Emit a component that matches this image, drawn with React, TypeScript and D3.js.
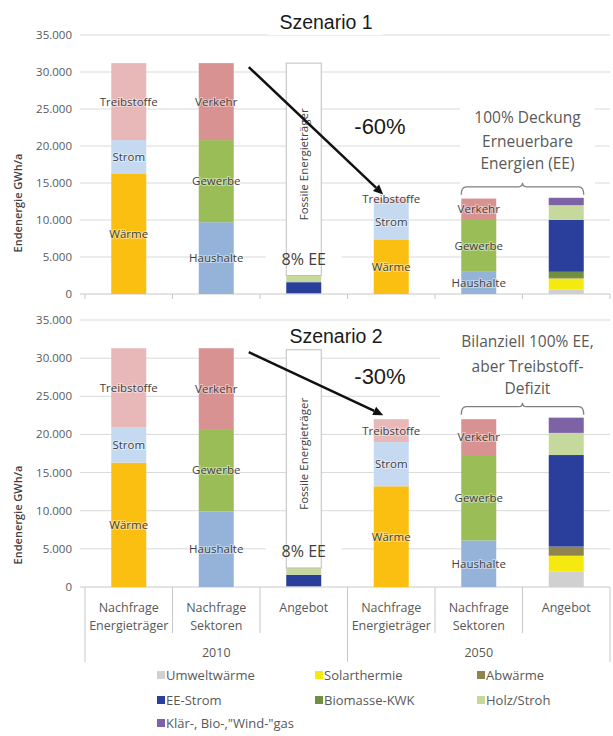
import React from "react";
import * as d3 from "d3";

const categories = ["NE2010", "NS2010", "A2010", "NE2050", "NS2050", "A2050"];
const categoryLabels = [
  ["Nachfrage", "Energieträger"],
  ["Nachfrage", "Sektoren"],
  ["Angebot"],
  ["Nachfrage", "Energieträger"],
  ["Nachfrage", "Sektoren"],
  ["Angebot"],
];
const years = ["2010", "2050"];

const seriesKeys = [
  "Wärme", "Strom", "Treibstoffe",
  "Haushalte", "Gewerbe", "Verkehr",
  "Umweltwärme", "Solarthermie", "Abwärme", "Biomasse-KWK", "EE-Strom", "Holz/Stroh", "Klärgas",
  "Fossile",
];
const labelledKeys = ["Wärme", "Strom", "Treibstoffe", "Haushalte", "Gewerbe", "Verkehr"];

// Szenario 1 (GWh/a per category)
const s1Waerme = [16300, 0, 0, 7300, 0, 0];
const s1Strom = [4500, 0, 0, 4900, 0, 0];
const s1Treibstoffe = [10400, 0, 0, 700, 0, 0];
const s1Haushalte = [0, 9700, 0, 0, 3000, 0];
const s1Gewerbe = [0, 11100, 0, 0, 7000, 0];
const s1Verkehr = [0, 10400, 0, 0, 2900, 0];
const s1Umwelt = [0, 0, 100, 0, 0, 600];
const s1Solar = [0, 0, 0, 0, 0, 1500];
const s1Abwaerme = [0, 0, 0, 0, 0, 200];
const s1Biomasse = [0, 0, 0, 0, 0, 700];
const s1EEStrom = [0, 0, 1500, 0, 0, 7000];
const s1Holz = [0, 0, 900, 0, 0, 2000];
const s1Klaer = [0, 0, 0, 0, 0, 1000];
const s1Fossil = [0, 0, 28700, 0, 0, 0];

// Szenario 2
const s2Waerme = [16300, 0, 0, 13200, 0, 0];
const s2Strom = [4600, 0, 0, 5800, 0, 0];
const s2Treibstoffe = [10400, 0, 0, 3000, 0, 0];
const s2Haushalte = [0, 9900, 0, 0, 6100, 0];
const s2Gewerbe = [0, 10800, 0, 0, 11200, 0];
const s2Verkehr = [0, 10600, 0, 0, 4700, 0];
const s2Umwelt = [0, 0, 100, 0, 0, 2000];
const s2Solar = [0, 0, 0, 0, 0, 2100];
const s2Abwaerme = [0, 0, 0, 0, 0, 1200];
const s2Biomasse = [0, 0, 0, 0, 0, 0];
const s2EEStrom = [0, 0, 1500, 0, 0, 12000];
const s2Holz = [0, 0, 900, 0, 0, 2900];
const s2Klaer = [0, 0, 0, 0, 0, 2000];
const s2Fossil = [0, 0, 28600, 0, 0, 0];

const yTicks = [0, 5000, 10000, 15000, 20000, 25000, 30000, 35000];

const legendItems = [
  "Umweltwärme", "Solarthermie", "Abwärme",
  "EE-Strom", "Biomasse-KWK", "Holz/Stroh",
  "Klärgas",
];
const legendLabels: Record<string, string> = {
  "Klärgas": 'Klär-, Bio-,"Wind-"gas',
};

const colors: Record<string, string> = {
  "Wärme": "#fbbf12",
  "Strom": "#c5d9f0",
  "Treibstoffe": "#e8b8b8",
  "Haushalte": "#95b3d9",
  "Gewerbe": "#9bbd58",
  "Verkehr": "#d99292",
  "Umweltwärme": "#d0d0d0",
  "Solarthermie": "#f5ea10",
  "Abwärme": "#8f8450",
  "Biomasse-KWK": "#6f9040",
  "EE-Strom": "#2a3f9c",
  "Holz/Stroh": "#c6d99c",
  "Klärgas": "#7e62a6",
  "Fossile": "#ffffff",
};

function buildRows(arrs: number[][]) {
  return categories.map((c, i) => {
    const row: any = { cat: c };
    seriesKeys.forEach((k, j) => (row[k] = arrs[j][i]));
    return row;
  });
}

const rows1 = buildRows([
  s1Waerme, s1Strom, s1Treibstoffe, s1Haushalte, s1Gewerbe, s1Verkehr,
  s1Umwelt, s1Solar, s1Abwaerme, s1Biomasse, s1EEStrom, s1Holz, s1Klaer, s1Fossil,
]);
const rows2 = buildRows([
  s2Waerme, s2Strom, s2Treibstoffe, s2Haushalte, s2Gewerbe, s2Verkehr,
  s2Umwelt, s2Solar, s2Abwaerme, s2Biomasse, s2EEStrom, s2Holz, s2Klaer, s2Fossil,
]);

const locale = d3.formatLocale({ decimal: ",", thousands: ".", grouping: [3], currency: ["", "€"] });
const fmt = locale.format(",");

const W = 613;
const H = 736;
const x = d3.scaleBand<string>().domain(categories).range([85, 610]).paddingInner(0.6).paddingOuter(0.3);
const calibri = "'Open Sans', 'Noto Sans', sans-serif";
const arial = "'Liberation Sans', Arial, sans-serif";
const gridColor = "#d9d9d9";
const textGray = "#595959";

type PanelProps = {
  rows: any[];
  y0: number;
  y1: number;
  title: string;
  titleY: number;
  titleX: number;
  pct: string;
  pctY: number;
  note: string[];
  noteY: number[];
  noteBox: [number, number, number, number];
  ylabelY: number;
  bottom: boolean;
  id: string;
};

function Panel(p: PanelProps) {
  const y = d3.scaleLinear().domain([0, 35000]).range([p.y0, p.y1]);
  const stacked = d3.stack<any>().keys(seriesKeys)(p.rows);
  const bw = x.bandwidth();
  const totals = p.rows.map((r) =>
    seriesKeys.filter((k) => k !== "Fossile").reduce((s, k) => s + r[k], 0)
  );
  const xc = (c: string) => (x(c) as number) + bw / 2;

  // arrow
  const ax0 = (x("NS2010") as number) + bw + 15;
  const ay0 = y(totals[1]) + 4;
  const ax1 = xc("NE2050") - 8;
  const ay1 = y(totals[3]) - 4;
  const ang = Math.atan2(ay1 - ay0, ax1 - ax0);
  const ah = 10;
  const aw = 4.5;
  const hx = ax1 - ah * Math.cos(ang);
  const hy = ay1 - ah * Math.sin(ang);
  const arrowHead = `M${ax1},${ay1}L${hx + aw * Math.sin(ang)},${hy - aw * Math.cos(ang)}L${hx - aw * Math.sin(ang)},${hy + aw * Math.cos(ang)}Z`;

  // brace
  const bx0 = x("NS2050") as number;
  const bx1 = (x("A2050") as number) + bw;
  const maxTop = Math.min(y(totals[4]), y(totals[5]));
  const bEnd = maxTop - 3;
  const bLine = bEnd - 8;
  const bMid = (bx0 + bx1) / 2;
  const r = 5;
  const brace = `M${bx0},${bEnd}Q${bx0},${bLine} ${bx0 + r},${bLine}L${bMid - 4},${bLine}Q${bMid},${bLine} ${bMid},${bLine - 4}Q${bMid},${bLine} ${bMid + 4},${bLine}L${bx1 - r},${bLine}Q${bx1},${bLine} ${bx1},${bEnd}`;

  const fossil = stacked.find((s) => s.key === "Fossile")!;
  const fIdx = categories.indexOf("A2010");
  const fSeg = fossil[fIdx];

  const titleW = p.title.length * 10.6;
  const eeY = y(totals[2]) - 11;

  return (
    <g>
      {/* gridlines */}
      {yTicks.map((t) => (
        <g key={t}>
          <line x1={80} x2={610} y1={y(t)} y2={y(t)} stroke={t === 0 ? "#c8c8c8" : gridColor} strokeWidth={1} />
          <text x={72} y={y(t)} dy="0.35em" textAnchor="end" fontFamily={calibri} fontSize={11.5} fill={textGray}>
            {fmt(t)}
          </text>
        </g>
      ))}
      {/* white boxes behind annotations */}
      <rect x={p.noteBox[0]} y={p.noteBox[1]} width={p.noteBox[2]} height={p.noteBox[3]} fill="#fff" />
      <rect x={p.titleX - titleW / 2 - 4} y={p.titleY - 22} width={titleW + 8} height={28} fill="#fff" />
      <rect x={xc("A2010") - 38} y={eeY - 15} width={76} height={22} fill="#fff" />

      {/* y label */}
      <text
        transform={`translate(22,${p.ylabelY}) rotate(-90)`}
        textAnchor="middle"
        fontFamily={calibri}
        fontSize={11}
        fontWeight={600}
        fill="#404040"
      >
        Endenergie GWh/a
      </text>

      {/* bars */}
      {stacked.map((s) =>
        s.map((d, i) => {
          if (d[1] - d[0] <= 0) return null;
          const c = categories[i];
          const isF = s.key === "Fossile";
          return (
            <rect
              key={s.key + c}
              x={x(c)}
              y={y(d[1])}
              width={bw}
              height={y(d[0]) - y(d[1])}
              fill={colors[s.key]}
              stroke={isF ? "#bfbfbf" : "none"}
              strokeWidth={isF ? 1 : 0}
            />
          );
        })
      )}
      {/* fossil label */}
      <text
        transform={`translate(${xc("A2010") + 4},${(y(fSeg[0]) + y(fSeg[1])) / 2 - 5}) rotate(-90)`}
        textAnchor="middle"
        fontFamily={calibri}
        fontSize={11.5}
        fill="#404040"
      >
        Fossile Energieträger
      </text>

      {/* segment labels */}
      {stacked
        .filter((s) => labelledKeys.includes(s.key))
        .map((s) =>
          s.map((d, i) => {
            if (d[1] - d[0] <= 0) return null;
            const c = categories[i];
            let ly = (y(d[0]) + y(d[1])) / 2;
            if (d[1] - d[0] < 1500) ly = y(d[0]) - 5;
            return (
              <text
                key={"l" + s.key + c}
                x={xc(c)}
                y={ly}
                dy="0.35em"
                textAnchor="middle"
                fontFamily={calibri}
                fontSize={11.5}
                fill="#3f3f3f"
                stroke="#ffffff"
                strokeOpacity={0.45}
                strokeWidth={2}
                paintOrder="stroke"
              >
                {s.key}
              </text>
            );
          })
        )}

      {/* 8% EE */}
      <text x={xc("A2010")} y={eeY} textAnchor="middle" fontFamily={calibri} fontSize={16} fill="#404040">
        8% EE
      </text>

      {/* title */}
      <text x={p.titleX} y={p.titleY} textAnchor="middle" fontFamily={arial} fontSize={19.5} fill="#1a1a1a">
        {p.title}
      </text>
      {/* percent */}
      <text x={380} y={p.pctY} textAnchor="middle" fontFamily={arial} fontSize={22} fill="#1a1a1a">
        {p.pct}
      </text>

      {/* arrow */}
      <line x1={ax0} y1={ay0} x2={hx} y2={hy} stroke="#111" strokeWidth={2.5} />
      <path d={arrowHead} fill="#111" />

      {/* brace + note */}
      <path d={brace} fill="none" stroke="#7f7f7f" strokeWidth={1.3} />
      {p.note.map((t, i) => (
        <text key={t} x={bMid + 5} y={p.noteY[i]} textAnchor="middle" fontFamily={calibri} fontSize={15.5} fill={textGray}>
          {t}
        </text>
      ))}

      {/* x axis */}
      {!p.bottom &&
        d3.range(categories.length + 1).map((i) => {
          const xx = 85 + i * x.step();
          return <line key={"t" + i} x1={xx} x2={xx} y1={p.y0} y2={p.y0 + 5} stroke="#c8c8c8" />;
        })}
      {p.bottom && (
        <g>
          {d3.range(categories.length + 1).map((i) => {
            const xx = 85 + i * x.step();
            const long = i % 3 === 0;
            return (
              <line key={"s" + i} x1={xx} x2={xx} y1={p.y0} y2={p.y0 + (long ? 75 : 46)} stroke="#c8c8c8" />
            );
          })}
          {categories.map((c, i) =>
            categoryLabels[i].map((l, j) => (
              <text
                key={c + l}
                x={xc(c)}
                y={p.y0 + 25 + j * 18}
                textAnchor="middle"
                fontFamily={calibri}
                fontSize={12.5}
                fill={textGray}
              >
                {l}
              </text>
            ))
          )}
          {years.map((yr, i) => (
            <text
              key={yr}
              x={85 + (i * 3 + 1.5) * x.step()}
              y={p.y0 + 70}
              textAnchor="middle"
              fontFamily={calibri}
              fontSize={12.5}
              fill={textGray}
            >
              {yr}
            </text>
          ))}
        </g>
      )}
    </g>
  );
}

export default function App() {
  const legendCols = [157, 315, 477];
  const legendRows = [680, 705, 728];
  return (
    <svg
      width={W}
      height={H}
      viewBox={`0 0 ${W} ${H}`}
      style={{ position: "absolute", left: 0, top: 0, display: "block", background: "#fff" }}
    >
      <rect width={W} height={H} fill="#fff" />
      <Panel
        id="p1"
        rows={rows1}
        y0={294}
        y1={35}
        title="Szenario 1"
        titleX={326}
        titleY={29}
        pct="-60%"
        pctY={134}
        note={["100% Deckung", "Erneuerbare", "Energien (EE)"]}
        noteY={[123, 147, 169]}
        noteBox={[460, 100, 135, 86]}
        ylabelY={203}
        bottom={false}
      />
      <Panel
        id="p2"
        rows={rows2}
        y0={587}
        y1={320}
        title="Szenario 2"
        titleX={336}
        titleY={343}
        pct="-30%"
        pctY={384}
        note={["Bilanziell 100% EE,", "aber Treibstoff-", "Defizit"]}
        noteY={[347, 372, 394]}
        noteBox={[440, 324, 173, 78]}
        ylabelY={515}
        bottom={true}
      />
      {legendItems.map((k, i) => {
        const cx = legendCols[i % 3];
        const cy = legendRows[Math.floor(i / 3)];
        return (
          <g key={k}>
            <rect x={cx} y={cy - 9} width={8} height={8} fill={colors[k]} />
            <text x={cx + 9} y={cy} fontFamily={calibri} fontSize={13} fill={textGray}>
              {legendLabels[k] || k}
            </text>
          </g>
        );
      })}
    </svg>
  );
}
